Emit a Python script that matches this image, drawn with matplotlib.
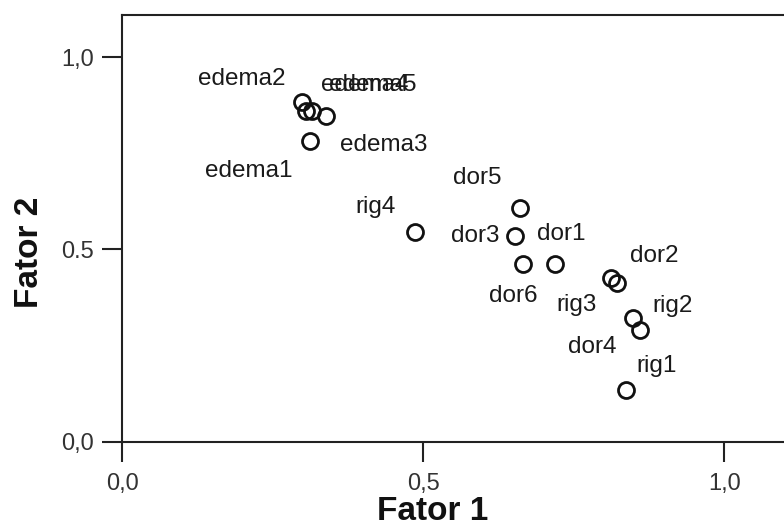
import matplotlib
matplotlib.use("Agg")
import matplotlib.pyplot as plt
from matplotlib.ticker import FixedLocator

plt.rcParams['font.family'] = ['Liberation Sans', 'DejaVu Sans']

# factor loadings
labels = ['edema1', 'edema2', 'edema3', 'edema4', 'edema5',
          'dor1', 'dor2', 'dor3', 'dor4', 'dor5', 'dor6',
          'rig1', 'rig2', 'rig3', 'rig4']
fator1 = [0.312, 0.299, 0.339, 0.305, 0.315,
          0.719, 0.812, 0.652, 0.860, 0.661, 0.666,
          0.837, 0.848, 0.822, 0.486]
fator2 = [0.782, 0.884, 0.848, 0.860, 0.860,
          0.462, 0.426, 0.535, 0.291, 0.608, 0.462,
          0.135, 0.322, 0.413, 0.545]

xticks = [0.0, 0.5, 1.0]
xticklabels = ['0,0', '0,5', '1,0']
yticks = [0.0, 0.5, 1.0]
yticklabels = ['0,0', '0.5', '1,0']

# where each point label sits, in pixels from its marker
offsets = {
    'edema1': (-61, -30), 'edema2': (-61, 23), 'edema3': (57, -29),
    'edema4': (59, 26), 'edema5': (61, 26),
    'dor1': (6, 30), 'dor2': (43, 22), 'dor3': (-40, 0),
    'dor4': (-48, -17), 'dor5': (-43, 30), 'dor6': (-10, -32),
    'rig1': (30, 24), 'rig2': (40, 12), 'rig3': (-41, -22),
    'rig4': (-39, 25),
}

fig = plt.figure(figsize=(7.84, 5.26), dpi=100)
ax = fig.add_axes([122.3 / 784, 1 - 441.7 / 526, 1 - 122.3 / 784, (441.7 - 14.5) / 526])

ax.plot(fator1, fator2, linestyle='none', marker='o', markersize=11.5,
        markerfacecolor='none', markeredgecolor='#111111', markeredgewidth=2.0,
        clip_on=False)

for lab, x, y in zip(labels, fator1, fator2):
    dx, dy = offsets[lab]
    ax.annotate(lab, (x, y), xytext=(dx, dy), textcoords='offset pixels',
                ha='center', va='center', fontsize=17.5, color='#1a1a1a')

ax.set_xlim(0, 1.099)
ax.set_ylim(0, 1.111)
ax.spines['right'].set_visible(False)
for s in ['left', 'bottom', 'top']:
    ax.spines[s].set_linewidth(1.5)
    ax.spines[s].set_color('#222222')

ax.xaxis.set_major_locator(FixedLocator(xticks))
ax.yaxis.set_major_locator(FixedLocator(yticks))
ax.set_xticklabels(xticklabels)
ax.set_yticklabels(yticklabels)
# tick sizes given in points (20 px marks at 100 dpi)
ax.tick_params(axis='both', direction='out', length=14.4, width=1.5,
               color='#222222', labelsize=17, labelcolor='#333333')
ax.tick_params(axis='x', pad=8)
ax.tick_params(axis='y', pad=6)

fig.text(433 / 784, 1 - 512 / 526, 'Fator 1', ha='center', va='center',
         fontsize=24, fontweight='bold', color='#111111')
fig.text(29 / 784, 1 - 252 / 526, 'Fator 2', ha='center', va='center',
         rotation=90, fontsize=24, fontweight='bold', color='#111111')

fig.savefig('out.png', dpi=100)
